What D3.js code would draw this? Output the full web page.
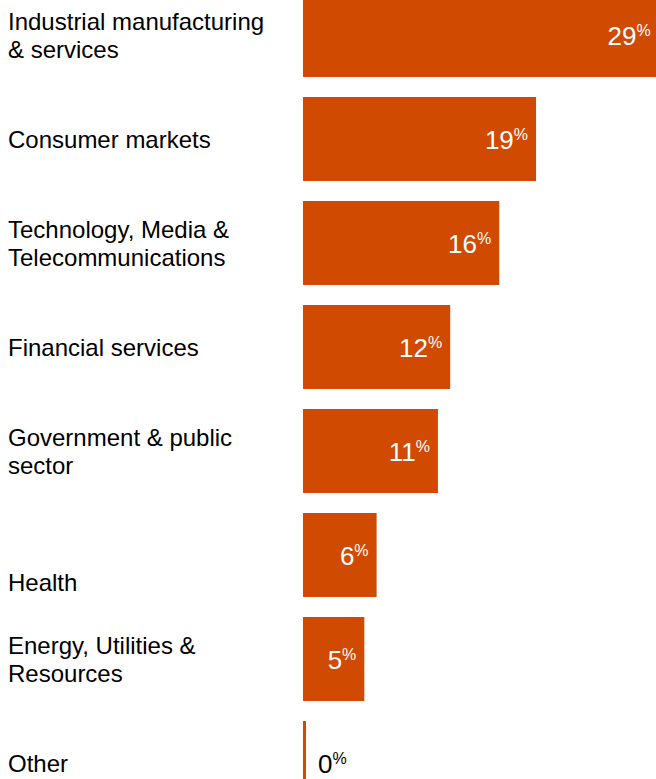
<!DOCTYPE html>
<html>
<head>
<meta charset="utf-8">
<script src="https://cdn.jsdelivr.net/npm/d3@7"></script>
<style>
  html, body { margin: 0; padding: 0; background: #fff; overflow: hidden; }
  svg { display: block; font-family: "Liberation Sans", Arial, Helvetica, sans-serif; }
</style>
</head>
<body>
<svg id="chart" width="656" height="779"></svg>
<script>
// Share of respondents by industry sector (%)
const categories = [
  "Industrial manufacturing & services",
  "Consumer markets",
  "Technology, Media & Telecommunications",
  "Financial services",
  "Government & public sector",
  "Health",
  "Energy, Utilities & Resources",
  "Other"
];
// Wrapped label lines for each category
const labelLines = [
  ["Industrial manufacturing", "& services"],
  ["Consumer markets"],
  ["Technology, Media &", "Telecommunications"],
  ["Financial services"],
  ["Government & public", "sector"],
  ["Health"],
  ["Energy, Utilities &", "Resources"],
  ["Other"]
];
const values = [29, 19, 16, 12, 11, 6, 5, 0];

const W = 656, H = 779;
const barColor = "#d04a02";
const svg = d3.select("#chart");

const y = d3.scaleBand()
  .domain(categories)
  .range([-7, 805])
  .paddingInner(20 / 104)
  .paddingOuter(0);

const x = d3.scaleLinear()
  .domain([0, 30])
  .range([303, 303 + 368]);

const rows = categories.map((c, i) => ({ cat: c, lines: labelLines[i], value: values[i] }));

// Bars
svg.append("g").selectAll("rect")
  .data(rows)
  .join("rect")
  .attr("x", x(0))
  .attr("y", d => y(d.cat))
  .attr("width", d => Math.max(3, x(d.value) - x(0)))
  .attr("height", y.bandwidth())
  .attr("fill", barColor);

// Category labels
const lineH = 28;
const bottomAligned = new Set(["Health"]);
const lab = svg.append("g").selectAll("text")
  .data(rows)
  .join("text")
  .attr("x", 8)
  .attr("y", d => {
    const top = y(d.cat), bw = y.bandwidth();
    if (bottomAligned.has(d.cat)) return top + bw - 6;
    const c = top + bw / 2;
    return c + 8.5 - (d.lines.length - 1) * lineH / 2;
  })
  .attr("font-size", 24)
  .attr("fill", "#000");
lab.selectAll("tspan")
  .data(d => d.lines)
  .join("tspan")
  .attr("x", 8)
  .attr("dy", (l, i) => i === 0 ? 0 : lineH)
  .text(l => l);

// Value labels: inside the bar end in white, outside for zero
const vals = svg.append("g").selectAll("text")
  .data(rows)
  .join("text")
  .attr("x", d => d.value > 0 ? x(d.value) - 8 : x(0) + 15)
  .attr("y", d => y(d.cat) + y.bandwidth() / 2 + 10)
  .attr("text-anchor", d => d.value > 0 ? "end" : "start")
  .attr("fill", d => d.value > 0 ? "#fff" : "#000");
vals.append("tspan")
  .attr("font-size", 26)
  .text(d => d3.format("d")(d.value));
vals.append("tspan")
  .attr("font-size", 16)
  .attr("dy", -9)
  .text("%");
</script>
</body>
</html>
